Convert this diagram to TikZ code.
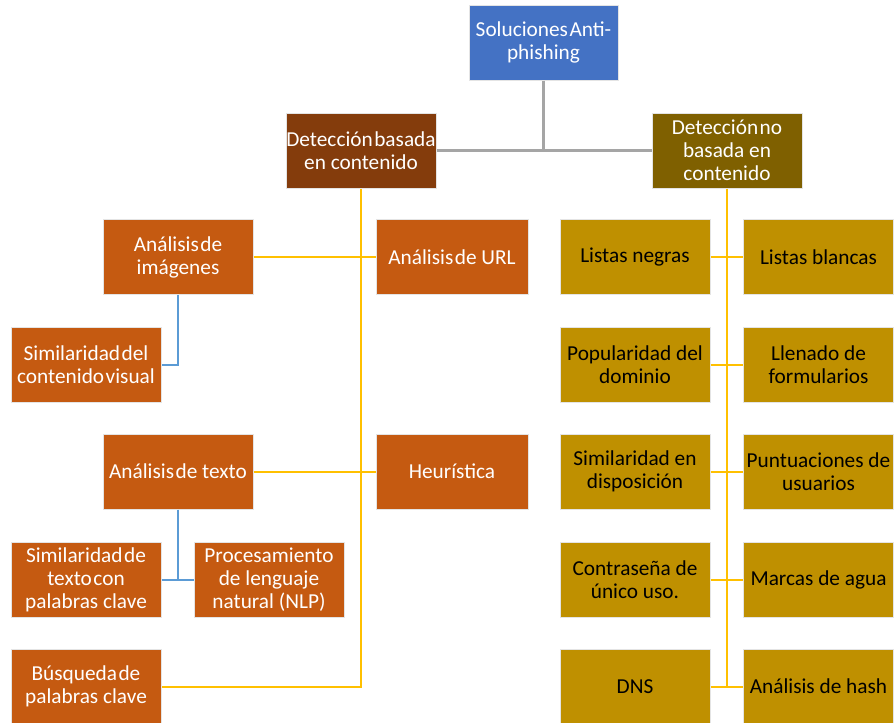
\documentclass[tikz,border=0pt]{standalone}
\usepackage{fontspec}
\setmainfont{Carlito}
\definecolor{cBlue}{HTML}{4472C4}
\definecolor{cBrownDark}{HTML}{843C0C}
\definecolor{cOliveDark}{HTML}{7F6000}
\definecolor{cOrange}{HTML}{C55A11}
\definecolor{cGold}{HTML}{BF9000}
\definecolor{cYellow}{HTML}{FFC000}
\definecolor{cLBlue}{HTML}{5B9BD5}
\definecolor{cGray}{HTML}{A5A5A5}
\definecolor{cEdge}{HTML}{E4E4E4}
\newcommand\gp{\kern1.5pt}
\begin{document}
\begin{tikzpicture}[x=1pt,y=-1pt,
  box/.style={draw=cEdge, line width=1pt, minimum width=150pt, minimum height=75pt,
    inner sep=0pt, align=center, font=\fontsize{21.3}{23}\selectfont},
  lbox/.style={box, fill=cOrange, text=white},
  rbox/.style={box, fill=cGold, text=black},
  yl/.style={draw=cYellow, line width=2pt},
  bl/.style={draw=cLBlue, line width=2pt},
  gl/.style={draw=cGray, line width=2.5pt}]
\useasboundingbox (0,0) rectangle (895,723);
% top levels
\node[box, fill=cBlue, text=white, minimum width=149pt] (top) at (543.5,42.5) {Soluciones\gp Anti-\\phishing};
\node[box, fill=cBrownDark, text=white] (lc) at (361,150.5) {Detección\gp basada\\en contenido};
\node[box, fill=cOliveDark, text=white] (rc) at (727,150.5) {Detección\gp no\\basada en\\contenido};
% left branch
\node[lbox] (img) at (178,257) {Análisis\gp de\\imágenes};
\node[lbox, minimum width=152pt] (url) at (452,257) {Análisis\gp de URL};
\node[lbox] (vis) at (86,365) {Similaridad\gp del\\contenido\gp visual};
\node[lbox] (txt) at (178,471.5) {Análisis\gp de texto};
\node[lbox, minimum width=152pt] (heu) at (452,471.5) {Heurística};
\node[lbox] (stc) at (86,579.5) {Similaridad\gp de\\texto\gp con\\palabras clave};
\node[lbox] (nlp) at (269,579.5) {Procesamiento\\de lenguaje\\natural (NLP)};
\node[lbox] (bus) at (86,686.5) {Búsqueda\gp de\\palabras clave};
% right branch
\node[rbox] (lneg) at (635,257) {Listas negras};
\node[rbox] (lbla) at (818.5,257) {Listas blancas};
\node[rbox] (pop) at (635,365) {Popularidad del\\dominio};
\node[rbox] (lle) at (818.5,365) {Llenado de\\formularios};
\node[rbox] (sim) at (635,471.5) {Similaridad en\\disposición};
\node[rbox] (pun) at (818.5,471.5) {Puntuaciones de\\usuarios};
\node[rbox] (con) at (635,579.5) {Contraseña de\\único uso.};
\node[rbox] (mar) at (818.5,579.5) {Marcas de agua};
\node[rbox] (dns) at (635,686.5) {DNS};
\node[rbox] (hash) at (818.5,686.5) {Análisis de hash};
% connectors
\coordinate (jt) at (top.south |- lc.east);
\draw[gl] (top.south) -- (jt);
\draw[gl] (lc.east) -- (rc.west);
\coordinate (lb) at (lc.south |- bus.east);
\draw[yl] (lc.south) -- (lb) -- (bus.east);
\draw[yl] (img.east) -- (url.west);
\draw[yl] (txt.east) -- (heu.west);
\draw[bl] (img.south) |- (vis.east);
\coordinate (tb) at (txt.south |- stc.east);
\draw[bl] (txt.south) -- (tb);
\draw[bl] (stc.east) -- (nlp.west);
\coordinate (rb) at (rc.south |- dns.east);
\draw[yl] (rc.south) -- (rb);
\draw[yl] (lneg.east) -- (lbla.west);
\draw[yl] (pop.east) -- (lle.west);
\draw[yl] (sim.east) -- (pun.west);
\draw[yl] (con.east) -- (mar.west);
\draw[yl] (dns.east) -- (hash.west);
\end{tikzpicture}
\end{document}
